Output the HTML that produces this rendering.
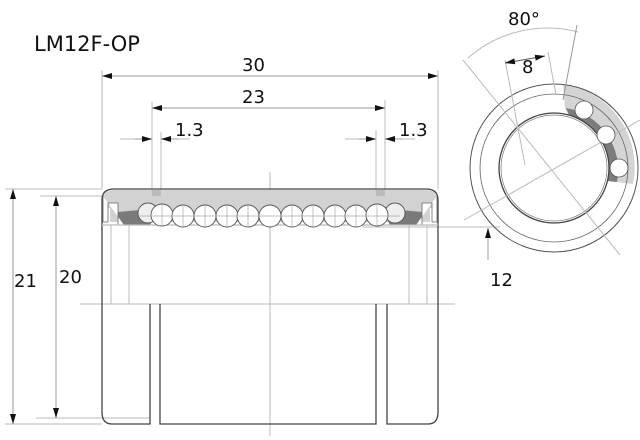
<!DOCTYPE html>
<html><head><style>body{margin:0;background:#fff}svg{display:block}text{font-family:"DejaVu Sans","Liberation Sans",sans-serif;fill:#111}</style></head>
<body>
<svg width="640" height="440" viewBox="0 0 640 440" xmlns="http://www.w3.org/2000/svg">
<defs>
<marker id="a" viewBox="0 0 10 6" refX="10" refY="3" markerWidth="10" markerHeight="6" orient="auto-start-reverse" markerUnits="userSpaceOnUse"><path d="M0,0L10,3L0,6z" fill="#111"/></marker>
</defs>
<text x="34" y="51" font-size="21">LM12F-OP</text>
<g stroke="#bbb" stroke-width="1" fill="none">
<line x1="102" y1="70" x2="102" y2="189"/><line x1="438" y1="70" x2="438" y2="189"/>
<line x1="152" y1="102" x2="152" y2="189"/><line x1="385" y1="100" x2="385" y2="189"/>
<line x1="161" y1="132" x2="161" y2="189"/><line x1="376" y1="130" x2="376" y2="189"/>
<line x1="120" y1="139" x2="152" y2="139"/><line x1="161" y1="139" x2="190" y2="139"/>
<line x1="345" y1="139" x2="376" y2="139"/><line x1="385" y1="139" x2="415" y2="139"/>
<line x1="5" y1="189" x2="102" y2="189"/><line x1="40" y1="196" x2="115" y2="196"/>
<line x1="5" y1="424" x2="102" y2="424"/><line x1="36" y1="418" x2="150" y2="418"/>
<line x1="270" y1="172" x2="270" y2="436"/>
<line x1="80" y1="304" x2="455" y2="304"/>
<line x1="362" y1="227" x2="500" y2="227"/>
<line x1="111" y1="225" x2="111" y2="304"/><line x1="129" y1="225" x2="129" y2="304"/>
<line x1="409" y1="225" x2="409" y2="304"/><line x1="427" y1="225" x2="427" y2="304"/>
</g>
<g stroke="#999" stroke-width="1">
<line x1="102" y1="76" x2="438" y2="76" marker-start="url(#a)" marker-end="url(#a)"/>
<line x1="152" y1="108" x2="385" y2="108" marker-start="url(#a)" marker-end="url(#a)"/>
<line x1="135" y1="139" x2="152" y2="139" marker-end="url(#a)"/>
<line x1="178" y1="139" x2="161" y2="139" marker-end="url(#a)"/>
<line x1="359" y1="139" x2="376" y2="139" marker-end="url(#a)"/>
<line x1="402" y1="139" x2="385" y2="139" marker-end="url(#a)"/>
<line x1="13" y1="189" x2="13" y2="424" marker-start="url(#a)" marker-end="url(#a)"/>
<line x1="56" y1="196" x2="56" y2="418" marker-start="url(#a)" marker-end="url(#a)"/>
<line x1="488" y1="260" x2="488" y2="228" marker-end="url(#a)"/>
</g>
<text x="242" y="71" font-size="18">30</text>
<text x="242" y="103" font-size="18">23</text>
<text x="175" y="136" font-size="18">1.3</text>
<text x="399" y="136" font-size="18">1.3</text>
<text x="14" y="287" font-size="18">21</text>
<text x="59" y="283" font-size="18">20</text>
<text x="490" y="286" font-size="18">12</text>
<!-- shell fill -->
<path d="M103,200 Q103,190 114,190 L152,190 L152,196 L161,196 L161,190 L376,190 L376,196 L385,196 L385,190 L426,190 Q437,190 437,200 L437,208 L103,208z" fill="#d2d2d2"/>
<path d="M110,206 L430,206 L430,222 L110,222z" fill="#d2d2d2"/>
<path d="M118,212 L140,210 L160,206 L150,225 L118,225z" fill="#7a7a7a"/>
<path d="M422,212 L400,210 L380,206 L390,225 L422,225z" fill="#7a7a7a"/>
<path d="M103,196 L103,222 L108,222 L108,203 L118,203 L118,225 L124,225" fill="#fff" stroke="#666" stroke-width="0.8"/>
<path d="M437,196 L437,222 L432,222 L432,203 L422,203 L422,225 L416,225" fill="#fff" stroke="#666" stroke-width="0.8"/>
<rect x="152" y="190" width="9" height="6" fill="#bbb"/><rect x="376" y="190" width="9" height="6" fill="#bbb"/>
<g stroke="#444" stroke-width="1.3" fill="none">
<path d="M102,200 Q102,189 114,189 L426,189 Q438,189 438,200" />
<path d="M102,200 L102,412 Q102,424 112,424 L150,424 L150,304"/>
<path d="M438,200 L438,412 Q438,424 428,424 L387,424 L387,304"/>
<path d="M160,304 L160,424 L376,424 L376,304"/>
<line x1="102" y1="225" x2="438" y2="225" stroke="#bbb"/>
</g>
<g fill="#fff" stroke="#555" stroke-width="0.9">
<circle cx="148" cy="213" r="10" fill="#eee"/><circle cx="395" cy="213" r="10" fill="#eee"/>
<circle cx="162" cy="215" r="11"/><circle cx="183" cy="216" r="11"/><circle cx="205" cy="216" r="11"/><circle cx="227" cy="216" r="11"/><circle cx="248" cy="216" r="11"/><circle cx="270" cy="216" r="11"/><circle cx="292" cy="216" r="11"/><circle cx="313" cy="216" r="11"/><circle cx="335" cy="216" r="11"/><circle cx="356" cy="216" r="11"/><circle cx="377" cy="215" r="11"/>
</g>
<g stroke="#aaa" stroke-width="0.7">
<line x1="140" y1="216" x2="400" y2="216"/>
<line x1="162" y1="204" x2="162" y2="226"/><line x1="183" y1="205" x2="183" y2="227"/><line x1="205" y1="205" x2="205" y2="227"/><line x1="227" y1="205" x2="227" y2="227"/><line x1="248" y1="205" x2="248" y2="227"/><line x1="292" y1="205" x2="292" y2="227"/><line x1="313" y1="205" x2="313" y2="227"/><line x1="335" y1="205" x2="335" y2="227"/><line x1="356" y1="205" x2="356" y2="227"/><line x1="377" y1="204" x2="377" y2="226"/>
</g>
<!-- right view -->
<g fill="none">
<path d="M563,84 A84,84 0 0 1 633,184 L598,180 L565,108z" fill="#d4d4d4"/>
<path d="M566,108 L598,180 L617,182 A63,63 0 0 0 566,108z" fill="#7c7c7c"/>
<circle cx="554" cy="168" r="84" stroke="#555" stroke-width="1"/>
<circle cx="554" cy="168" r="74" stroke="#666" stroke-width="0.8"/>
<circle cx="554" cy="168" r="55" fill="#fff" stroke="#444" stroke-width="1.3"/>
<circle cx="554" cy="168" r="53" stroke="#777" stroke-width="0.7"/>
<path d="M468,58 A120,120 0 0 1 578,32" stroke="#bbb"/>
<line x1="463" y1="60" x2="620" y2="255" stroke="#bbb"/>
<line x1="577" y1="25" x2="563" y2="100" stroke="#999"/>
<line x1="505" y1="60" x2="525" y2="165" stroke="#bbb"/>
<line x1="548" y1="52" x2="556" y2="95" stroke="#bbb"/>
<line x1="464" y1="220" x2="640" y2="120" stroke="#bbb"/>
<line x1="505" y1="63" x2="545" y2="56" stroke="#555" marker-start="url(#a)" marker-end="url(#a)"/>
</g>
<g fill="#fff" stroke="#555" stroke-width="0.8">
<circle cx="584" cy="110" r="9"/><circle cx="606" cy="135" r="9"/><circle cx="619" cy="168" r="9"/>
</g>
<text x="508" y="25" font-size="18">80°</text>
<text x="522" y="73" font-size="18">8</text>
</svg>
</body></html>
